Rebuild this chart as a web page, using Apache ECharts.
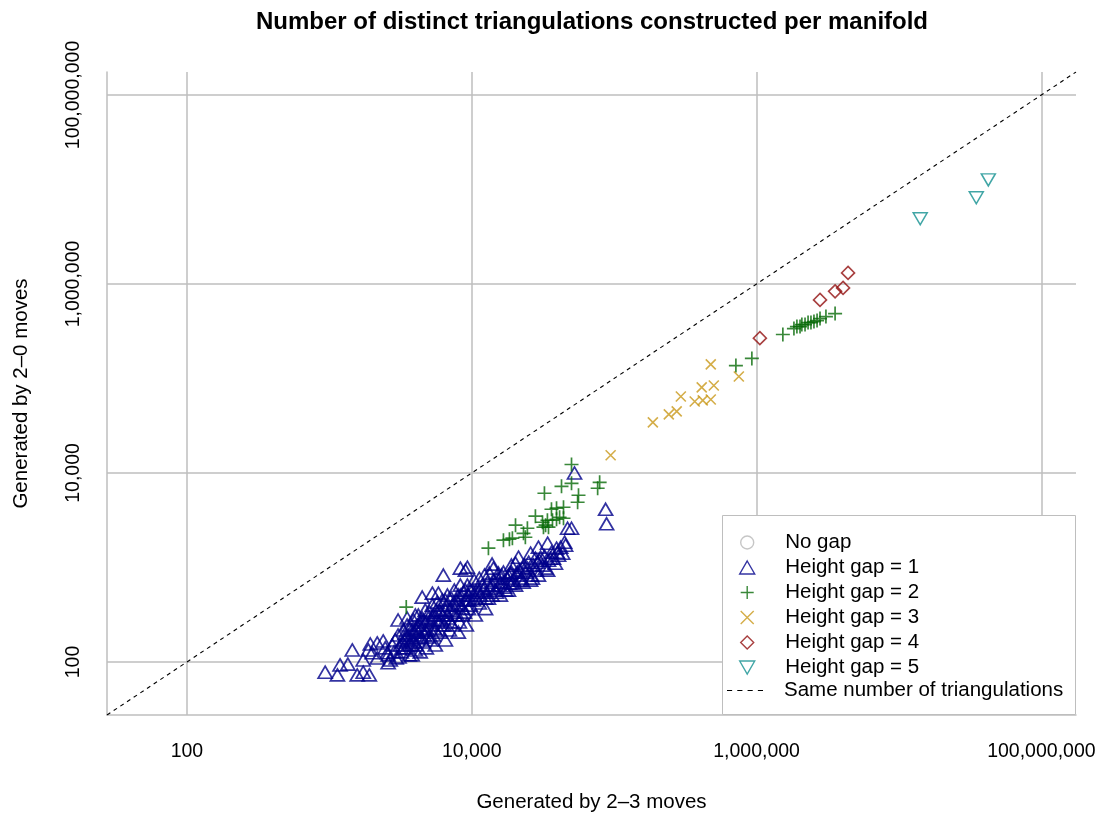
<!DOCTYPE html>
<html><head><meta charset="utf-8">
<script src="https://cdn.jsdelivr.net/npm/echarts@6/dist/echarts.min.js"></script>
<style>html,body{margin:0;padding:0;background:#fff}#c{width:1101px;height:814px}</style>
</head><body><div id="c"></div>
<script>
// ---- data ----
const tickValues = [100, 10000, 1000000, 100000000];
const axisMin = 27.48, axisMax = 1.75e8;
const seriesNames = ['No gap', 'Height gap = 1', 'Height gap = 2', 'Height gap = 3', 'Height gap = 4', 'Height gap = 5'];
const lineName = 'Same number of triangulations';

const noGap = [[11800, 441]];

const gap1 = [
 [935,78],[1140,73],[1190,93],[1350,95],[1450,134],[1570,73],[1730,78],[1910,73],[1940,155],[1730,105],
 [2170,159],[2390,167],[1880,134],[2000,125],[2170,110],[2550,125],[3040,278],[3520,292],[4020,314],[4490,486],
 [5290,535],[5830,535],[6320,830],[8320,984],[9020,937],[9320,1008],[13900,1085],[14200,984],[16700,893],[19000,1059],
 [20300,1110],[21300,1285],[22700,1008],[25900,1417],[28000,1254],[29400,1640],[30400,1285],[34100,1808],[42100,1640],[44900,1852],
 [47100,2600],[50200,2600],[52700,10000],[87100,4130],[88500,2900],[15400,872],[18700,872],
 [2470,141],[2590,119],[2680,105],[2770,151],[2850,128],[2900,171],[2590,98],[2950,110],
 [3040,193],[3150,151],[3200,128],[3310,218],[3360,171],[3470,141],[3520,246],[3580,193],[3640,119],[3700,228],
 [3820,171],[3890,278],[3950,207],[4090,151],[4150,246],[4220,314],[4280,180],[4420,228],[4490,292],[4640,193],[4720,354],
 [4800,265],[4870,218],[5040,337],[5120,171],[5200,278],[5290,400],[5460,228],[5550,314],[5730,430],[5830,265],[5920,354],[6020,207],
 [6220,452],[6320,314],[6420,246],[6640,400],[6750,510],[6860,292],[7080,354],[7190,474],[7310,246],[7550,576],[7670,400],
 [7920,314],[8050,510],[8320,651],[8460,400],[8730,548],[8880,337],[9170,452],[9320,651],[9480,510],[9790,400],
 [10100,576],[10400,735],[10600,474],[10960,605],[11300,771],[11500,510],[11900,651],[12300,830],[12700,548],[12900,700],[13300,872],[13500,605],
 [14200,735],[14700,576],[15200,771],[15700,651],[16200,830],[16700,700],[17300,576],[17800,771],[18400,683],[19000,893],[19700,735],
 [20600,830],[21600,937],[22300,771],[23400,1059],[24200,893],[25100,1138],[26300,830],[27100,1059],[28500,937],[29900,1195],[31400,1059],[32500,1320],
 [34600,1195],[36300,1452],[37500,1254],[39400,1600],[40700,1350],[43500,1417],[45600,1722],
 [3090,113],[3260,163],[3410,202],[3760,151],[3820,218],[4020,134],[4220,207],[4350,265],[4560,163],[4800,207],
 [4950,292],[5370,193],[5640,354],[6120,278],[6530,354],[6970,218],[7430,337],[7800,452],[8190,265],[8600,372],
 [9020,576],[9630,452],[11100,548],[12500,474],[13900,510],[15900,510],[18100,576],[20300,651],[23000,700],[25900,735],
 [29400,830],[34100,937],[38700,1110],
 [3820,119],[4350,128],[4800,141],[5550,151],[6530,171],[8050,207],[9170,246],[10600,314],[12500,367],
 [3310,141],[3470,180],[3640,151],[3760,193],[3950,163],[4090,218],[4280,246],[4420,184],[4560,278],[4720,218],
 [4950,184],[5120,246],[5370,314],[5550,218],[5730,278],[6020,337],[6220,246],[6530,452],[6750,314],[7080,265],
 [7310,400],[7670,314],[8050,420],[8320,510],[8600,314],[9020,452],[9480,367],[9790,576],[10300,452],[10800,548],
 [11300,420],[12100,576],[13100,474],[13900,651],[14900,548],[15900,700],[17000,620],[18100,830],[19300,683],[20900,893],
 [22000,735],[24600,984],[26700,771],[29000,1138],[33000,984],[35700,1254],[40000,1452]
];

const gap2 = [
 [3470,381],[13100,1600],[16700,1945],[18400,1990],[19300,2040],[20300,2800],[23100,2300],[23800,2090],[24600,2600],[28000,3490],
 [31400,3010],[31900,2670],[32400,6100],[33000,2800],[34000,3160],[34600,2670],[36300,4130],[36900,3160],[39400,4240],[39400,3240],
 [41400,3400],[42700,7230],[44100,4340],[44100,3320],[50200,12300],[50200,7780],[55400,4900],[56200,5810],[76600,6890],[79100,7970],
 [716000,137000],[927000,163000],[1530000,292000],[1830000,337000],[1920000,354000],[2020000,354000],[2080000,372000],[2190000,372000],
 [2300000,390000],[2410000,390000],[2530000,400000],[2660000,410000],[2790000,430000],[3070000,452000],[3560000,486000]
];

const gap3 = [
 [94500,15400],[187000,34300],[242000,41700],[275000,44800],[294000,64500],[368000,57100],
 [419000,58600],[477000,60000],[412000,80400],[501000,84300],[477000,141000],[751000,105000]
];

const gap4 = [[1055000,267000],[2790000,678000],[3560000,836000],[4050000,908000],[4390000,1310000]];

const gap5 = [[14100000,4900000],[34900000,8170000],[42400000,12650000]];

// ---- chart ----
const FONT = '"Liberation Sans", Arial, Helvetica, sans-serif';
function fmt(v) { return String(Math.round(v)).replace(/\B(?=(\d{3})+(?!\d))/g, ','); }

const TRI_UP = 'path://M5,0L10,8.66L0,8.66Z';
const TRI_DOWN = 'path://M0,0L10,0L5,8.66Z';
const PLUS = 'path://M5,0L5,10M0,5L10,5';
const CROSS = 'path://M0,0L10,10M0,10L10,0';
const DIAMOND = 'path://M5,0L10,5L5,10L0,5Z';
const DASH_ICON = 'path://M0,0h5v1h-5zM10,0h5v1h-5zM20,0h5v1h-5zM30,0h5v1h-5z';

const colors = {
  gray: '#b8b8b8', blue: '#00008B', green: '#086a08', gold: '#C9981A', red: '#921010', cyan: '#119090'
};

function sc(name, data, symbol, size, color, bw) {
  return {
    name: name, type: 'scatter', data: data, symbol: symbol, symbolSize: size, z: 3,
    itemStyle: { color: 'transparent', borderColor: color, borderWidth: bw },
    emphasis: { disabled: true }, animation: false
  };
}

const gridLines = tickValues.map(v => ({ xAxis: v })).concat(tickValues.map(v => ({ yAxis: v })));

const chart = echarts.init(document.getElementById('c'), null, { renderer: 'canvas' });
const axisCommon = {
  type: 'log', logBase: 10, min: axisMin, max: axisMax,
  axisLine: { show: true, lineStyle: { color: '#bebebe', width: 1.5 } },
  axisTick: { show: false },
  splitLine: { show: false },
  nameLocation: 'middle',
  nameTextStyle: { fontSize: 20.5, color: '#000', fontFamily: FONT }
};

chart.setOption({
  animation: false,
  textStyle: { fontFamily: FONT },
  title: {
    text: 'Number of distinct triangulations constructed per manifold',
    left: 587, top: 5, textAlign: 'center',
    textStyle: { fontSize: 24, fontWeight: 'bold', color: '#000', fontFamily: FONT }
  },
  grid: { left: 107, right: 25, top: 72, bottom: 99, containLabel: false, outerBoundsMode: 'none' },
  xAxis: Object.assign({}, axisCommon, {
    name: 'Generated by 2\u20133 moves', nameGap: 77,
    axisLabel: { customValues: tickValues, formatter: fmt, fontSize: 19.5, color: '#000', margin: 27, fontFamily: FONT }
  }),
  yAxis: Object.assign({}, axisCommon, {
    name: 'Generated by 2\u20130 moves', nameGap: 75,
    axisLabel: { customValues: tickValues, formatter: fmt, fontSize: 19.5, color: '#000', margin: 23, rotate: 90, fontFamily: FONT }
  }),
  legend: [{
    orient: 'vertical', left: 739, top: 517, padding: [15, 0, 0, 0],
    itemWidth: 66, itemHeight: 13, itemGap: 4, selectedMode: false,
    itemStyle: { borderWidth: 1.4 },
    textStyle: { fontSize: 20.5, lineHeight: 20, color: '#000', fontFamily: FONT },
    data: [
      { name: seriesNames[0], icon: 'circle' },
      { name: seriesNames[1], icon: TRI_UP },
      { name: seriesNames[2], icon: PLUS },
      { name: seriesNames[3], icon: CROSS },
      { name: seriesNames[4], icon: DIAMOND },
      { name: seriesNames[5], icon: TRI_DOWN }
    ]
  }, {
    orient: 'vertical', left: 727, top: 680, padding: 0,
    itemWidth: 36, itemHeight: 11, selectedMode: false,
    itemStyle: { color: '#000', borderWidth: 0 },
    textStyle: { fontSize: 20.5, lineHeight: 20, color: '#000', fontFamily: FONT, padding: [0, 0, 0, 16] },
    data: [{ name: lineName, icon: DASH_ICON }]
  }],
  graphic: [{
    type: 'rect', z: 3, silent: true,
    shape: { x: 722.5, y: 515.5, width: 353, height: 199 },
    style: { fill: '#fff', stroke: '#bebebe', lineWidth: 1 }
  }],
  series: [
    {
      name: 'grid', type: 'scatter', data: [], z: 1, silent: true,
      markLine: {
        z: 1, silent: true, symbol: ['none', 'none'], label: { show: false },
        lineStyle: { color: '#bebebe', width: 1.5, type: 'solid' },
        emphasis: { disabled: true }, animation: false, data: gridLines
      }
    },
    {
      name: lineName, type: 'line', z: 2, symbol: 'none', silent: true,
      data: [[axisMin, axisMin], [axisMax, axisMax]],
      lineStyle: { color: '#000', width: 1.1, type: [4, 4] },
      itemStyle: { color: '#000' },
      emphasis: { disabled: true }, animation: false
    },
    sc(seriesNames[0], noGap, 'circle', 9, colors.gray, 1.3),
    sc(seriesNames[1], gap1, TRI_UP, [14, 12], colors.blue, 1.7),
    sc(seriesNames[2], gap2, PLUS, 14, colors.green, 1.7),
    sc(seriesNames[3], gap3, CROSS, 10, colors.gold, 1.6),
    sc(seriesNames[4], gap4, DIAMOND, 13, colors.red, 1.6),
    sc(seriesNames[5], gap5, TRI_DOWN, [14, 12], colors.cyan, 1.5)
  ]
});
</script>
</body></html>
